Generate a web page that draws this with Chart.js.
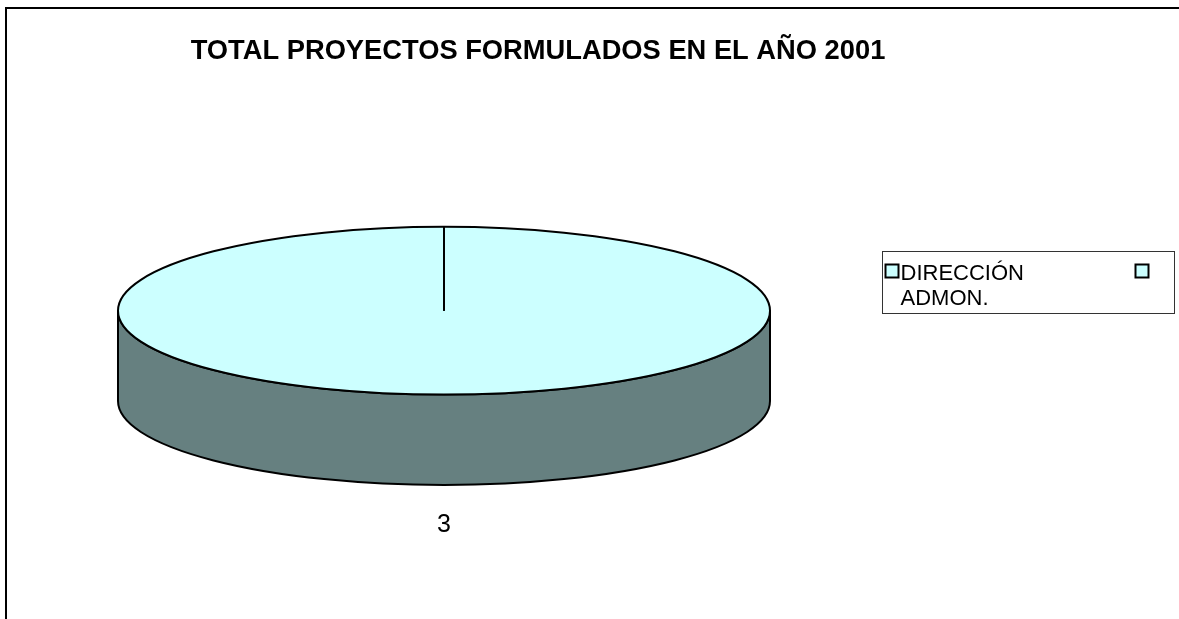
<!DOCTYPE html>
<html>
<head>
<meta charset="utf-8">
<script src="https://cdn.jsdelivr.net/npm/chart.js@4.4.0/dist/chart.umd.min.js"></script>
<style>
  html, body { margin: 0; padding: 0; background: #fff; overflow: hidden; }
  #frame { position: absolute; left: 5px; top: 7px; width: 1300px; height: 700px; border: 2px solid #000; }
  #wrap { position: absolute; left: 0; top: 0; width: 1179px; height: 619px; }
</style>
</head>
<body>
<div id="frame"></div>
<div id="wrap"><canvas id="chart"></canvas></div>
<script>
const TITLE = "TOTAL PROYECTOS FORMULADOS EN EL AÑO 2001";
const categories = ["DIRECCIÓN ADMON.", ""];
const projectCounts = [3, null];

const FONT = "'Liberation Sans', Arial, sans-serif";
const TOP_COLOR = "#CCFFFF";
const SIDE_COLOR = "#668080";
const DEPTH = 0.35; // share of the plot height used by the pie's wall
const LABEL_GAP = 40;
const TITLE_SPAN = 1076; // the sheet's chart area is wider than the window
const LEGEND = { left: 882.5, top: 251.5, width: 292, height: 62, itemStep: 250 };

// ellipse that the flat Chart.js pie is squashed into
function geometry(chart) {
  const ca = chart.chartArea;
  const arc = chart.getDatasetMeta(0).data[0];
  const depth = ca.height * DEPTH;
  const rx = ca.width / 2;
  const ry = (ca.height - depth) / 2;
  return { x: arc.x, y: arc.y, r: arc.outerRadius, cx: (ca.left + ca.right) / 2, cy: ca.top + ry, rx, ry, depth };
}

const pie3d = {
  id: "pie3d",
  afterLayout(chart) {
    const t = chart.titleBlock;
    t.left = 0;
    t.right = TITLE_SPAN;
    t.width = TITLE_SPAN;
  },
  beforeDatasetsDraw(chart) {
    const ctx = chart.ctx;
    const g = geometry(chart);
    const arcs = chart.getDatasetMeta(0).data;

    // front wall
    ctx.save();
    arcs.forEach((arc) => {
      if (!(arc.circumference > 0)) return;
      [[0, Math.PI], [2 * Math.PI, 3 * Math.PI]].forEach(([lo, hi]) => {
        const a = Math.max(arc.startAngle, lo);
        const b = Math.min(arc.endAngle, hi);
        if (b <= a) return;
        ctx.beginPath();
        ctx.ellipse(g.cx, g.cy, g.rx, g.ry, 0, a, b);
        ctx.ellipse(g.cx, g.cy + g.depth, g.rx, g.ry, 0, b, a, true);
        ctx.closePath();
        ctx.fillStyle = SIDE_COLOR;
        ctx.fill();
        ctx.lineWidth = 2;
        ctx.strokeStyle = "#000";
        ctx.stroke();
      });
    });
    ctx.restore();

    // the library draws its slices flattened onto the top face
    ctx.save();
    ctx.translate(g.cx, g.cy);
    ctx.scale(g.rx / g.r, g.ry / g.r);
    ctx.translate(-g.x, -g.y);
  },
  afterDatasetsDraw(chart) {
    const ctx = chart.ctx;
    ctx.restore();
    const g = geometry(chart);
    const arcs = chart.getDatasetMeta(0).data;

    ctx.save();
    ctx.lineWidth = 2;
    ctx.strokeStyle = "#000";
    ctx.beginPath();
    ctx.ellipse(g.cx, g.cy, g.rx, g.ry, 0, 0, 2 * Math.PI);
    ctx.stroke();

    arcs.forEach((arc, i) => {
      if (!(arc.circumference > 0)) return;
      [arc.startAngle, arc.endAngle].forEach((ang) => {
        ctx.beginPath();
        ctx.moveTo(g.cx, g.cy);
        ctx.lineTo(g.cx + g.rx * Math.cos(ang), g.cy + g.ry * Math.sin(ang));
        ctx.stroke();
      });

      // value label outside the slice
      const mid = (arc.startAngle + arc.endAngle) / 2;
      const s = Math.sin(mid);
      const lx = g.cx + (g.rx + LABEL_GAP) * Math.cos(mid);
      const ly = g.cy + (g.ry + LABEL_GAP) * s + (s > 0 ? g.depth : 0);
      ctx.fillStyle = "#000";
      ctx.font = "25px " + FONT;
      ctx.textAlign = "center";
      ctx.textBaseline = "middle";
      ctx.fillText(String(projectCounts[i]), lx, ly);
    });
    ctx.restore();
  },
  afterDraw(chart) {
    const ctx = chart.ctx;
    const colors = chart.data.datasets[0].backgroundColor;
    ctx.save();
    ctx.lineWidth = 1;
    ctx.strokeStyle = "#333";
    ctx.strokeRect(LEGEND.left, LEGEND.top, LEGEND.width, LEGEND.height);

    ctx.font = "22px " + FONT;
    ctx.textAlign = "left";
    ctx.textBaseline = "alphabetic";
    chart.data.labels.forEach((label, i) => {
      const x = LEGEND.left + 3 + i * LEGEND.itemStep;
      ctx.fillStyle = colors[i];
      ctx.fillRect(x, LEGEND.top + 13, 13, 13);
      ctx.lineWidth = 2;
      ctx.strokeStyle = "#000";
      ctx.strokeRect(x, LEGEND.top + 13, 13, 13);
      ctx.fillStyle = "#000";
      label.split(" ").forEach((line, j) => {
        ctx.fillText(line, x + 15, LEGEND.top + 28 + j * 25);
      });
    });
    ctx.restore();
  },
};

new Chart(document.getElementById("chart"), {
  type: "pie",
  data: {
    labels: categories,
    datasets: [
      {
        data: projectCounts,
        backgroundColor: [TOP_COLOR, TOP_COLOR],
        borderWidth: 0,
      },
    ],
  },
  options: {
    responsive: true,
    maintainAspectRatio: false,
    animation: false,
    events: [],
    layout: { padding: { left: 118, right: 409, top: 0, bottom: 134 } },
    plugins: {
      legend: { display: false },
      tooltip: { enabled: false },
      title: {
        display: true,
        text: TITLE,
        color: "#000",
        font: { family: FONT, size: 27.3, weight: "bold", lineHeight: 1.2 },
        padding: { top: 35, bottom: 159 },
      },
    },
  },
  plugins: [pie3d],
});
</script>
</body>
</html>
